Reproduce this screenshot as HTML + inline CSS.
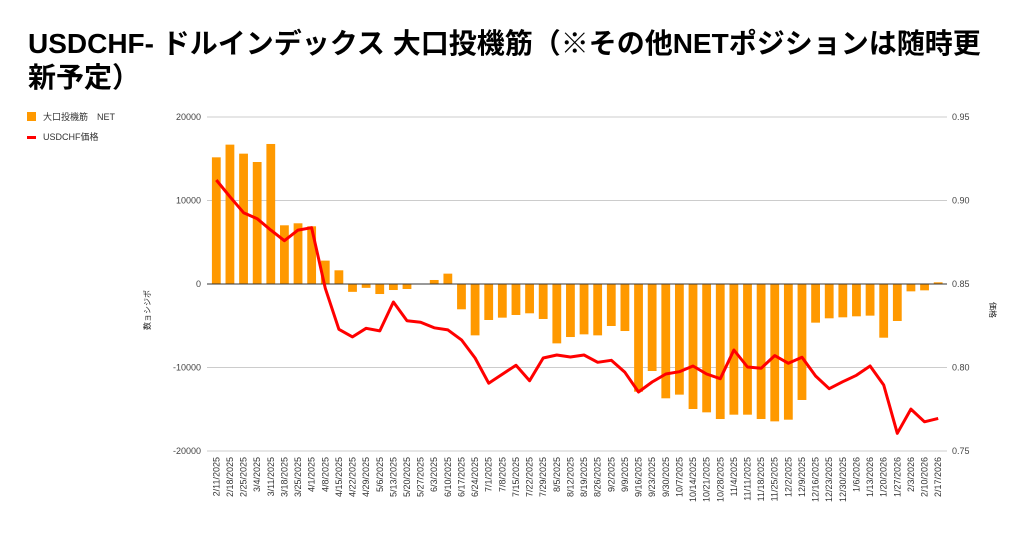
<!DOCTYPE html>
<html><head><meta charset="utf-8">
<style>
body{margin:0;background:#fff;width:1024px;height:534px;overflow:hidden;font-family:"Liberation Sans","Noto Sans CJK JP",sans-serif;}
#title{position:absolute;left:28px;top:27px;font-size:28px;font-weight:bold;line-height:34px;color:#000;width:990px;white-space:nowrap;}
svg{position:absolute;left:0;top:0;}
</style></head><body>
<div id="title">USDCHF- ドルインデックス 大口投機筋（※その他NETポジションは随時更<br>新予定）</div>
<svg id="chart" width="1024" height="534"></svg>
<script>
const categories=["2/11/2025","2/18/2025","2/25/2025","3/4/2025","3/11/2025","3/18/2025","3/25/2025","4/1/2025","4/8/2025","4/15/2025","4/22/2025","4/29/2025","5/6/2025","5/13/2025","5/20/2025","5/27/2025","6/3/2025","6/10/2025","6/17/2025","6/24/2025","7/1/2025","7/8/2025","7/15/2025","7/22/2025","7/29/2025","8/5/2025","8/12/2025","8/19/2025","8/26/2025","9/2/2025","9/9/2025","9/16/2025","9/23/2025","9/30/2025","10/7/2025","10/14/2025","10/21/2025","10/28/2025","11/4/2025","11/11/2025","11/18/2025","11/25/2025","12/2/2025","12/9/2025","12/16/2025","12/23/2025","12/30/2025","1/6/2026","1/13/2026","1/20/2026","1/27/2026","2/3/2026","2/10/2026","2/17/2026"];
const netValues=[15170,16690,15610,14610,16770,7030,7270,6910,2800,1640,-940,-460,-1200,-720,-600,-50,480,1240,-3030,-6150,-4310,-4030,-3710,-3510,-4190,-7110,-6350,-6030,-6150,-5030,-5630,-12900,-10420,-13690,-13250,-14970,-15370,-16170,-15650,-15650,-16170,-16450,-16250,-13890,-4630,-4110,-3990,-3870,-3790,-6430,-4430,-880,-760,200];
const priceValues=[0.9123,0.9023,0.8927,0.8891,0.8823,0.8759,0.8823,0.8837,0.8474,0.8229,0.8183,0.8235,0.8219,0.8392,0.8280,0.8271,0.8238,0.8225,0.8165,0.8057,0.7906,0.7960,0.8013,0.7921,0.8057,0.8075,0.8063,0.8075,0.8031,0.8043,0.7971,0.7853,0.7913,0.7961,0.7975,0.8009,0.7961,0.7933,0.8105,0.8003,0.7995,0.8071,0.8025,0.8061,0.7949,0.7873,0.7915,0.7953,0.8009,0.7895,0.7606,0.7751,0.7675,0.7695];
const leftTicks=[20000,10000,0,-10000,-20000];
const rightTicks=["0.95","0.90","0.85","0.80","0.75"];

const NS="http://www.w3.org/2000/svg";
const svg=document.getElementById('chart');
const X0=209.5,STEP=13.62,TOP=117,BOT=451;
function xPos(i){return X0+STEP*(i+0.5);}
function yL(v){return TOP+(20000-v)/40000*(BOT-TOP);}
function yR(v){return TOP+(0.95-v)/0.2*(BOT-TOP);}
function mk(tag,attrs){const e=document.createElementNS(NS,tag);for(const k in attrs)e.setAttribute(k,attrs[k]);svg.appendChild(e);return e;}

leftTicks.forEach((t,i)=>{
  const y=yL(t);
  const g=mk('line',{x1:207,x2:947,y1:y,y2:y,stroke:t===0?'#333':'#ccc','stroke-width':1});
  
  
  const l=mk('text',{x:201,y:y+3,'text-anchor':'end','font-size':9,fill:'#444'});
  l.textContent=t;
  
  
  const r=mk('text',{x:952,y:yR(parseFloat(rightTicks[i]))+3,'font-size':9,fill:'#444'});
  r.textContent=rightTicks[i];
  
  
});

netValues.forEach((v,i)=>{
  const y0=yL(0),y1=yL(v);
  const b=mk('rect',{x:xPos(i)-4.4,y:Math.min(y0,y1),width:8.8,height:Math.max(Math.abs(y1-y0),0.5),fill:'#ff9900'});
  
  
});
const zl=mk('line',{x1:207,x2:947,y1:yL(0),y2:yL(0),stroke:'#333','stroke-width':1});



const pts=priceValues.map((v,i)=>xPos(i).toFixed(1)+','+yR(v).toFixed(1)).join(' ');
const pl=mk('polyline',{points:pts,fill:'none',stroke:'#ff0000','stroke-width':3,'stroke-linejoin':'round'});



categories.forEach((c,i)=>{
  const x=xPos(i)+3;
  const t=mk('text',{x:x,y:457,'text-anchor':'end','font-size':9,fill:'#333',transform:'rotate(-90 '+x+' 457)'});
  t.textContent=c;
  
  
});

const lt=mk('text',{x:150,y:310,'text-anchor':'middle','font-size':8,fill:'#222',transform:'rotate(-90 150 310)'});
lt.textContent='数ョシジポ';


const rt=mk('text',{x:990,y:310,'text-anchor':'middle','font-size':8,fill:'#222',transform:'rotate(90 990 310)'});
rt.textContent='価格';



const lg1=mk('rect',{x:27,y:112,width:9,height:9,fill:'#ff9900'});


const lt1=mk('text',{x:43,y:120,'font-size':9,fill:'#333'});
lt1.textContent='大口投機筋　NET';


const lg2=mk('rect',{x:27,y:136,width:9,height:3,fill:'#ff0000'});


const lt2=mk('text',{x:43,y:140,'font-size':9,fill:'#333'});
lt2.textContent='USDCHF価格';


</script>
</body></html>
